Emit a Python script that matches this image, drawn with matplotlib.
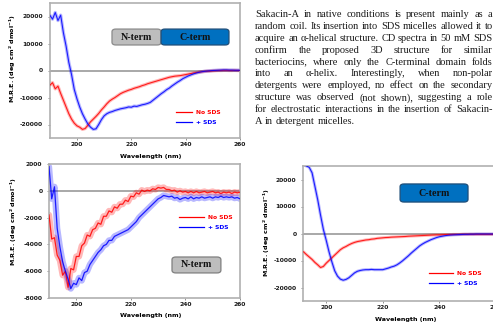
import matplotlib
matplotlib.use("Agg")
import matplotlib.pyplot as plt
from matplotlib.patches import FancyBboxPatch

# ---------------------------------------------------------------- data
# wavelength grids (nm)
wl_full = list(range(190, 261))
wl_cterm = list(range(192, 261))

# full-length Sakacin-A, mean residue ellipticity (deg cm2 dmol-1)
full_no_sds = [-5500, -4500, -6800, -5800, -8500, -11000, -13500, -16000, -18000, -19500,
               -20500, -21000, -21800, -21500, -20300, -19000, -18000, -17000, -15900, -14600,
               -13500, -12300, -11300, -10600, -10000, -9300, -8600, -8100, -7700, -7300,
               -7000, -6600, -6300, -6000, -5600, -5300, -4900, -4600, -4300, -4000,
               -3700, -3400, -3100, -2800, -2500, -2300, -2100, -2000, -1900, -1700,
               -1500, -1300, -1100, -900, -750, -600, -450, -350, -250, -200,
               -100, -50, 0, 0, 50, 50, 0, 0, 50, 0, 0]
full_sds = [20500, 19000, 21500, 18500, 20500, 14000, 9000, 3000, -1500, -7000,
            -10500, -13500, -16000, -18000, -19800, -21000, -21800, -21600, -20000, -18200,
            -16800, -16000, -15500, -15200, -14800, -14500, -14200, -14000, -13800, -13500,
            -13600, -13200, -13300, -13000, -12700, -12500, -12200, -11800, -11000, -10200,
            -9400, -8600, -7900, -7100, -6500, -5700, -5000, -4300, -3700, -3000,
            -2500, -2000, -1600, -1200, -900, -650, -450, -300, -200, -100,
            0, 50, 100, 150, 200, 200, 150, 150, 100, 100, 100]

# N-terminal fragment
nterm_no_sds = [-1800, -3600, -3500, -4800, -5200, -6300, -6000, -7200, -5800, -5900,
                -4900, -4900, -4100, -3900, -3300, -3400, -2900, -2800, -2400, -2500,
                -1900, -1900, -1500, -1600, -1200, -1300, -1000, -1000, -700, -800,
                -400, -450, -150, -250, 50, -50, 50, 0, 150, 100,
                250, 200, 250, 100, 100, 0, 50, -100, 0, -100,
                -50, -150, -50, -150, -50, -150, -100, -50, -150, -100,
                -50, -150, -100, -200, -100, -150, -100, -200, -100, -150, -100]
nterm_sds = [1800, -600, 300, -2800, -4200, -5300, -6000, -6600, -7300, -6900,
             -7000, -6500, -6700, -6100, -6000, -5500, -5200, -4900, -4600, -4400,
             -4100, -4000, -3700, -3700, -3400, -3300, -3200, -3100, -3000, -2900,
             -2700, -2500, -2300, -2000, -1800, -1600, -1400, -1200, -1000, -800,
             -600, -500, -350, -400, -450, -400, -550, -500, -650, -550,
             -500, -600, -450, -600, -500, -550, -450, -550, -500, -450,
             -550, -450, -500, -400, -500, -450, -500, -450, -550, -500, -600]

# C-terminal fragment
cterm_no_sds = [-6800, -7800, -8700, -9600, -10700, -11600, -12600, -12200, -11000, -10000,
                -9000, -8000, -7000, -6000, -5300, -4800, -4200, -3700, -3300, -3000,
                -2800, -2600, -2400, -2300, -2100, -2000, -1800, -1700, -1600, -1500,
                -1450, -1350, -1300, -1250, -1200, -1150, -1100, -1000, -950, -900,
                -850, -800, -750, -700, -650, -600, -550, -500, -500, -450,
                -400, -400, -400, -350, -350, -350, -300, -300, -300, -300,
                -300, -300, -300, -300, -300, -300, -300, -300, -300]
cterm_sds = [25500, 25000, 24500, 22500, 17500, 12500, 6800, 1500, -2500, -6800,
             -10500, -13800, -15800, -16900, -17300, -17000, -16400, -15500, -14600, -14000,
             -13700, -13500, -13400, -13400, -13300, -13400, -13400, -13400, -13400, -13100,
             -12800, -12400, -12100, -11600, -10900, -10100, -9200, -8300, -7300, -6400,
             -5500, -4600, -3900, -3300, -2800, -2300, -1900, -1500, -1200, -1000,
             -800, -650, -550, -500, -450, -400, -350, -300, -300, -250,
             -250, -200, -200, -200, -200, -200, -200, -200, -200]

x_ticks = [200, 220, 240, 260]
big_yticks = [-20000, -10000, 0, 10000, 20000]
nterm_yticks = [-8000, -6000, -4000, -2000, 0, 2000]
series_labels = ["No SDS", "+ SDS"]
series_colors = ["#ff0000", "#0000ff"]

paragraph = [
    "Sakacin-A in native conditions is present mainly as a",
    "random coil. Its insertion into SDS micelles allowed it to",
    "acquire an \u03b1-helical structure. CD spectra in 50 mM SDS",
    "confirm the proposed 3D structure for similar",
    "bacteriocins, where only the C-terminal domain folds",
    "into an \u03b1-helix. Interestingly, when non-polar",
    "detergents were employed, no effect on the secondary",
    "structure was observed (not shown), suggesting a role",
    "for electrostatic interactions in the insertion of Sakacin-",
    "A in detergent micelles.",
]

# ---------------------------------------------------------------- layout
W, H = 493, 326
fig = plt.figure(figsize=(W / 100, H / 100), dpi=100)
fig.patch.set_facecolor("white")

SANS = "DejaVu Sans"
SERIF = "Liberation Serif"
TICK_FS = 4.3
LABEL_FS = 4.6
FRAME = "#b0b0b0"
YLABEL = "M.R.E. (deg cm$^{\\mathbf{2}}$ dmol$^{\\mathbf{-1}}$)"


def px_axes(left, top, right, bottom):
    return fig.add_axes([left / W, 1 - bottom / H, (right - left) / W, (bottom - top) / H])


def style_panel(ax, xlim, ylim, yticks, ylabel_xy, xlabel_y):
    ax.set_xlim(*xlim)
    ax.set_ylim(*ylim)
    ax.set_xticks(x_ticks)
    ax.set_yticks(yticks)
    ax.set_yticklabels([str(v) for v in yticks])
    for s in ax.spines.values():
        s.set_color(FRAME)
        s.set_linewidth(1.2)
    ax.tick_params(axis="both", labelsize=TICK_FS, width=0.6, length=1.5,
                   color="#808080", labelcolor="#1a1a1a")
    ax.tick_params(axis="y", pad=3.2)
    ax.tick_params(axis="x", pad=1.6)
    for t in ax.get_xticklabels() + ax.get_yticklabels():
        t.set_fontweight("bold")
        t.set_fontfamily(SANS)
    ax.axhline(0, color="#9a9a9a", lw=1.2, zorder=1)
    ax.set_xlabel("Wavelength (nm)", fontsize=LABEL_FS, fontweight="bold", family=SANS)
    ax.xaxis.set_label_coords(0.53, xlabel_y)
    ax.set_ylabel(YLABEL, fontsize=LABEL_FS, fontweight="bold", family=SANS)
    ax.yaxis.set_label_coords(*ylabel_xy)


def draw_series(ax, x, ys, band_lw, line_lw):
    handles = []
    for y, c, lab in zip(ys, series_colors, series_labels):
        ax.plot(x, y, color=c, lw=band_lw, alpha=0.28, solid_capstyle="round", zorder=2)
        h, = ax.plot(x, y, color=c, lw=line_lw, alpha=0.85, label=lab, zorder=3)
        handles.append(h)
    return handles


def add_legend(ax, handles, anchor, handlelength):
    leg = ax.legend(handles=handles, loc="center left", bbox_to_anchor=anchor,
                    frameon=False, borderpad=0, borderaxespad=0,
                    handlelength=handlelength, handletextpad=0.6, labelspacing=0.75,
                    prop={"family": SANS, "weight": "bold", "size": 4.3})
    for txt, c in zip(leg.get_texts(), series_colors):
        txt.set_color(c)
    for ln in leg.get_lines():
        ln.set_linewidth(0.9)
        ln.set_alpha(1)


def add_box(ax, x0, y0, x1, y1, text, face, edge):
    box = FancyBboxPatch((x0, y0), x1 - x0, y1 - y0, transform=ax.transAxes,
                         boxstyle="round,pad=0,rounding_size=0.02",
                         facecolor=face, edgecolor=edge, lw=0.9, zorder=5)
    ax.add_patch(box)
    ax.text((x0 + x1) / 2, (y0 + y1) / 2, text, transform=ax.transAxes,
            ha="center", va="center", fontsize=7.2, fontweight="bold",
            family=SERIF, color="#111111", zorder=6)


# ---- full-length peptide
ax1 = px_axes(49.8, 3, 240, 138)
h1 = draw_series(ax1, wl_full, [full_no_sds, full_sds], 2.4, 0.8)
style_panel(ax1, (190, 260), (-25000, 25000), big_yticks, (-0.165, 0.59), -0.115)
add_legend(ax1, h1, (0.664, 0.152), 2.7)
add_box(ax1, 0.327, 0.689, 0.585, 0.807, "N-term", "#bdbdbd", "#8a8a8a")
add_box(ax1, 0.585, 0.689, 0.942, 0.807, "C-term", "#0070c0", "#1f4e79")

# ---- N-terminal fragment
ax2 = px_axes(49, 164, 240, 298)
h2 = draw_series(ax2, wl_full, [nterm_no_sds, nterm_sds], 4.5, 0.9)
style_panel(ax2, (190, 260), (-8000, 2000), nterm_yticks, (-0.155, 0.57), -0.115)
add_legend(ax2, h2, (0.681, 0.563), 4.2)
add_box(ax2, 0.644, 0.187, 0.900, 0.306, "N-term", "#bdbdbd", "#7f7f7f")

# ---- C-terminal fragment
ax3 = px_axes(303, 166, 496, 301)
h3 = draw_series(ax3, wl_cterm, [cterm_no_sds, cterm_sds], 2.2, 0.8)
style_panel(ax3, (191.8, 260), (-25000, 25000), big_yticks, (-0.16, 0.507), -0.115)
add_legend(ax3, h3, (0.653, 0.167), 4.0)
add_box(ax3, 0.503, 0.733, 0.855, 0.867, "C-term", "#0070c0", "#1f4e79")

# ---- justified paragraph
renderer = fig.canvas.get_renderer()
left_px, right_px = 255.0, 492.5
width_px = right_px - left_px
probe = fig.text(0, 0, paragraph[1], family=SERIF, fontsize=10)
fs = 10 * width_px / probe.get_window_extent(renderer).width
probe.remove()

first_baseline, pitch = 17.0, 11.9
for i, line in enumerate(paragraph):
    y = 1 - (first_baseline + i * pitch) / H
    words = line.split(" ")
    texts = [fig.text(0, y, w, family=SERIF, fontsize=fs, color="#1a1a1a", va="baseline")
             for w in words]
    widths = [t.get_window_extent(renderer).width for t in texts]
    if i < len(paragraph) - 1 and len(words) > 1:
        gap = (width_px - sum(widths)) / (len(words) - 1)
    else:
        space = fig.text(0, 0, "a a", family=SERIF, fontsize=fs)
        aa = fig.text(0, 0, "aa", family=SERIF, fontsize=fs)
        gap = space.get_window_extent(renderer).width - aa.get_window_extent(renderer).width
        space.remove()
        aa.remove()
    x = left_px
    for t, w in zip(texts, widths):
        t.set_x(x / W)
        x += w + gap

fig.savefig("out.png", dpi=100)
